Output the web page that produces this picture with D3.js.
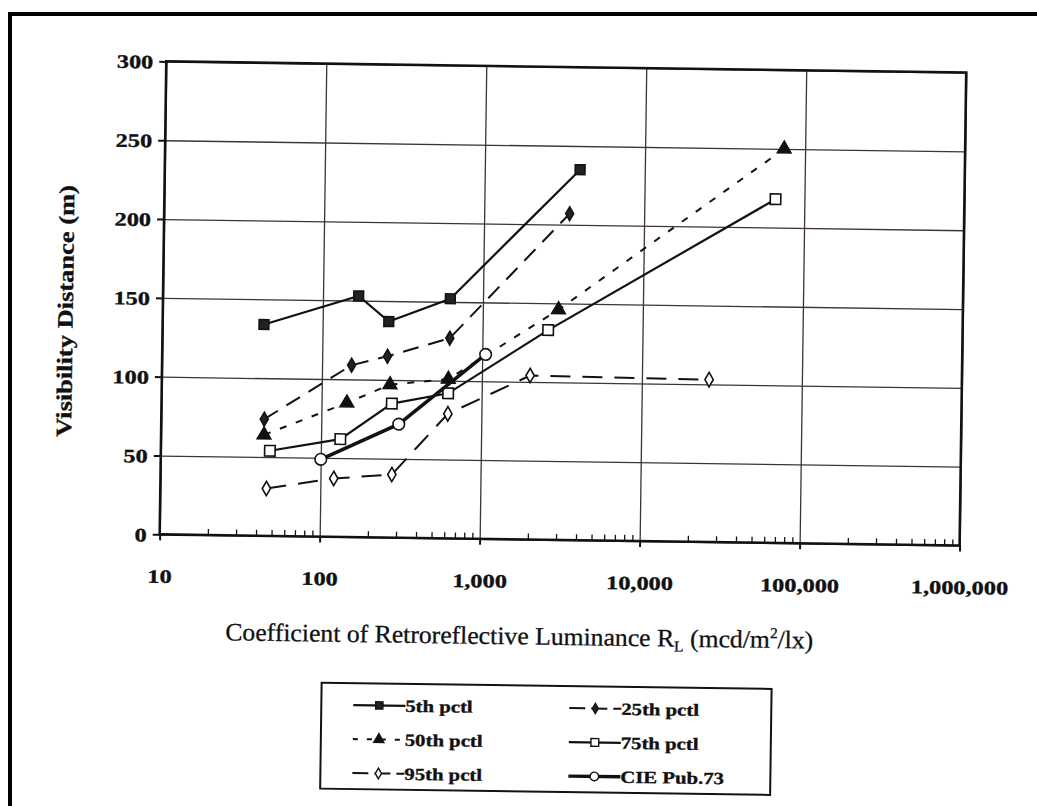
<!DOCTYPE html>
<html lang="en">
<head>
<meta charset="UTF-8" />
<title>Visibility Distance vs Retroreflective Luminance</title>
<script src="https://d3js.org/d3.v7.min.js"></script>
<style>
  body { margin: 0; background: #fff; }
  svg { display: block; }
  .lbl {
    font-family: "Liberation Serif", "Times New Roman", serif;
    font-weight: bold;
    font-size: 19px;
    fill: #111;
    stroke: #111;
    stroke-width: 0.35px;
    transform-box: fill-box;
    transform-origin: 50% 50%;
    transform: scaleX(1.28);
  }
  .lbl.yl { transform-origin: 100% 50%; }
  .lbl.leg { font-size: 17px; transform-origin: 0% 50%; transform: scaleX(1.22); }
</style>
</head>
<body>
<svg id="chart"></svg>
<script>
// values
const rl5 = [43, 167, 259, 625, 3940];
const vd5 = [134, 153, 137, 152, 235];
const rl25 = [44, 153, 256, 625, 3420];
const vd25 = [74, 109, 115, 127, 207];
const rl50 = [44, 144, 267, 617, 2970, 74000];
const vd50 = [64, 85, 97, 101, 146, 250];
const rl75 = [48, 132, 275, 617, 2570, 66000];
const vd75 = [54, 62, 85, 92, 133, 218];
const rl95 = [46, 121, 279, 617, 2000, 26300];
const vd95 = [30, 37, 40, 79, 104, 103];
const rlCie = [100, 305, 1050];
const vdCie = [49, 72, 117];

const xTicks = [10, 100, 1000, 10000, 100000, 1000000];
const yTicks = [0, 50, 100, 150, 200, 250, 300];

const W = 1037, H = 806;
const M = { left: 163, right: 963, top: 67, bottom: 540 };

const series = [
  { name: "5th pctl", rl: rl5, vd: vd5, sym: d3.symbolSquare, size: 95, fill: "#222", width: 2.2, dash: null },
  { name: "25th pctl", rl: rl25, vd: vd25, sym: d3.symbolDiamond, size: 55, fill: "#222", width: 2, dash: "16,10" },
  { name: "50th pctl", rl: rl50, vd: vd50, sym: d3.symbolTriangle, size: 80, fill: "#111", width: 2, dash: "7,10" },
  { name: "75th pctl", rl: rl75, vd: vd75, sym: d3.symbolSquare, size: 110, fill: "#fff", width: 2.2, dash: null },
  { name: "95th pctl", rl: rl95, vd: vd95, sym: d3.symbolDiamond, size: 60, fill: "#fff", width: 2, dash: "20,12" },
  { name: "CIE Pub.73", rl: rlCie, vd: vdCie, sym: d3.symbolCircle, size: 105, fill: "#fff", width: 3.4, dash: null }
];

const svg = d3.select("#chart").attr("width", W).attr("height", H);

// outer frame (only left and top visible in the scan)
svg.append("path")
  .attr("d", `M10,${H} V14 H${W}`)
  .attr("fill", "none").attr("stroke", "#000").attr("stroke-width", 4);

// the scanned page is slightly tilted
const chart = svg.append("g").attr("transform", "rotate(0.8, 565, 300)");

const x = d3.scaleLog().domain([10, 1000000]).range([M.left, M.right]);
const y = d3.scaleLinear().domain([0, 300]).range([M.bottom, M.top]);

const ink = "#141014";
const gridInk = "#3d323d";

// grid
chart.append("g")
  .attr("transform", `translate(${M.left},0)`)
  .call(d3.axisLeft(y).tickValues(yTicks).tickSize(-(M.right - M.left)).tickFormat(""))
  .call(g => g.select(".domain").remove())
  .call(g => g.selectAll("line").attr("stroke", gridInk).attr("stroke-width", 1.3));

chart.append("g")
  .attr("transform", `translate(0,${M.bottom})`)
  .call(d3.axisBottom(x).tickValues(xTicks).tickSize(-(M.bottom - M.top)).tickFormat(""))
  .call(g => g.select(".domain").remove())
  .call(g => g.selectAll("line").attr("stroke", gridInk).attr("stroke-width", 1.3));

// minor x ticks
const minor = [];
for (let p = 10; p < 1000000; p *= 10) for (let k = 2; k <= 9; k++) minor.push(p * k);
chart.append("g")
  .attr("transform", `translate(0,${M.bottom})`)
  .call(d3.axisBottom(x).tickValues(minor).tickSize(-6).tickFormat(""))
  .call(g => g.select(".domain").remove())
  .call(g => g.selectAll("line").attr("stroke", ink).attr("stroke-width", 1.3));

// plot frame
chart.append("rect")
  .attr("x", M.left).attr("y", M.top)
  .attr("width", M.right - M.left).attr("height", M.bottom - M.top)
  .attr("fill", "none").attr("stroke", ink).attr("stroke-width", 2.6);

// axes with labels
chart.append("g")
  .attr("transform", `translate(${M.left},0)`)
  .call(d3.axisLeft(y).tickValues(yTicks).tickSize(7).tickPadding(6))
  .call(g => g.select(".domain").remove())
  .call(g => g.selectAll("line").attr("stroke", ink).attr("stroke-width", 2))
  .call(g => g.selectAll("text").attr("class", "lbl yl").attr("dy", "0.35em"));

chart.append("g")
  .attr("transform", `translate(0,${M.bottom})`)
  .call(d3.axisBottom(x).tickValues(xTicks).tickSize(6).tickPadding(29).tickFormat(d3.format(",")))
  .call(g => g.select(".domain").remove())
  .call(g => g.selectAll("line").attr("stroke", ink).attr("stroke-width", 2))
  .call(g => g.selectAll("text").attr("class", "lbl"));

// titles
chart.append("g")
  .attr("transform", "translate(73,318) rotate(-90)")
  .append("text")
  .attr("text-anchor", "middle")
  .attr("font-family", "Liberation Serif, serif")
  .attr("font-weight", "bold")
  .attr("font-size", 22)
  .attr("fill", "#111")
  .attr("stroke", "#111")
  .attr("stroke-width", 0.3)
  .attr("textLength", 252)
  .attr("lengthAdjust", "spacingAndGlyphs")
  .text("Visibility Distance (m)");

const xt = chart.append("text")
  .attr("x", 230).attr("y", 645)
  .attr("font-family", "Liberation Serif, serif")
  .attr("font-size", 25)
  .attr("fill", "#111")
  .attr("stroke", "#111")
  .attr("stroke-width", 0.3)
  .attr("textLength", 588)
  .attr("lengthAdjust", "spacingAndGlyphs");
xt.append("tspan").text("Coefficient of Retroreflective Luminance R");
xt.append("tspan").attr("font-size", 15).attr("dy", 5).text("L");
xt.append("tspan").attr("dy", -5).text(" (mcd/m");
xt.append("tspan").attr("font-size", 15).attr("dy", -10).text("2");
xt.append("tspan").attr("dy", 10).text("/lx)");

// series
const line = d3.line().x(d => x(d[0])).y(d => y(d[1]));

series.forEach(s => {
  const pts = s.rl.map((r, i) => [r, s.vd[i]]);
  chart.append("path")
    .datum(pts)
    .attr("d", line)
    .attr("fill", "none")
    .attr("stroke", ink)
    .attr("stroke-width", s.width)
    .attr("stroke-dasharray", s.dash);
  chart.selectAll(null)
    .data(pts)
    .enter()
    .append("path")
    .attr("d", d3.symbol().type(s.sym).size(s.size))
    .attr("transform", d => `translate(${x(d[0])},${y(d[1])})`)
    .attr("fill", s.fill)
    .attr("stroke", ink)
    .attr("stroke-width", 1.6);
});

// legend
const legend = chart.append("g").attr("transform", "translate(327,686)");
legend.append("rect")
  .attr("width", 450).attr("height", 106)
  .attr("fill", "#fff").attr("stroke", ink).attr("stroke-width", 2);

const items = legend.selectAll(".item")
  .data(series)
  .enter()
  .append("g")
  .attr("class", "item")
  .attr("transform", (d, i) => `translate(${i % 2 === 0 ? 32 : 248},${22 + Math.floor(i / 2) * 34})`);

items.append("line")
  .attr("x1", 0).attr("x2", 52)
  .attr("stroke", ink)
  .attr("stroke-width", d => d.width)
  .attr("stroke-dasharray", d => d.dash ? (d.dash === "7,10" ? "5,9" : "16,6") : null);
items.append("path")
  .attr("d", d => d3.symbol().type(d.sym).size(d.size * 0.55)())
  .attr("transform", "translate(26,0)")
  .attr("fill", d => d.fill)
  .attr("stroke", ink)
  .attr("stroke-width", 1.4);
items.append("text")
  .attr("class", "lbl leg")
  .attr("x", 52)
  .attr("dy", "0.35em")
  .text(d => d.name);
</script>
</body>
</html>
